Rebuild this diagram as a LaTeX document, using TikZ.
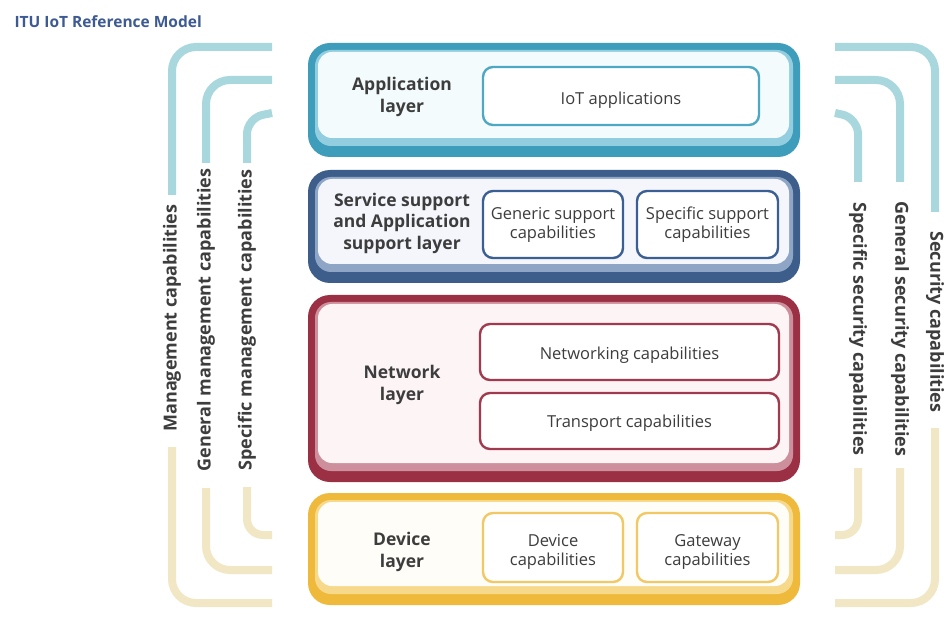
\documentclass[tikz,border=0pt]{standalone}
\usepackage{fontspec}
\setmainfont{Open Sans}
\definecolor{txt}{HTML}{3D3D3D}
\definecolor{ttl}{HTML}{3D5A92}
\definecolor{appdark}{HTML}{3E9DBB}
\definecolor{appband}{HTML}{93CDE0}
\definecolor{appfill}{HTML}{F3FBFD}
\definecolor{appin}{HTML}{4EA8C4}
\definecolor{svcdark}{HTML}{3D5D8A}
\definecolor{svcband}{HTML}{8EA5C6}
\definecolor{svcfill}{HTML}{F4F6FC}
\definecolor{svcin}{HTML}{3B5F92}
\definecolor{netdark}{HTML}{9B2F44}
\definecolor{netband}{HTML}{CC8F9B}
\definecolor{netfill}{HTML}{FDF4F6}
\definecolor{netin}{HTML}{A23A4F}
\definecolor{devdark}{HTML}{EFB93C}
\definecolor{devband}{HTML}{F6D98B}
\definecolor{devfill}{HTML}{FFFDF7}
\definecolor{devin}{HTML}{F1C864}
\definecolor{brteal}{HTML}{A8D7DD}
\definecolor{brcream}{HTML}{F2E7C4}
\tikzset{
  capbox/.style={draw, line width=2.4pt, rounded corners=10pt, fill=white, inner sep=0pt},
  captext/.style={text=txt, align=center, font=\fontsize{16.5}{19}\selectfont, inner sep=0pt},
  layerlabel/.style={text=txt, align=center, font=\fontsize{17.5}{21.5}\selectfont\bfseries},
  brtop/.style={draw=brteal, line width=8pt, rounded corners=24pt},
  brbot/.style={draw=brcream, line width=8pt, rounded corners=24pt},
  brlabel/.style={text=txt, font=\fontsize{18}{20}\selectfont\bfseries},
}
\newcommand{\layershape}[7]{%
  \fill[#5, rounded corners=22pt] (308,#1) rectangle (800,#2);
  \fill[#6, rounded corners=16pt] (315,#3) rectangle (793,#4);
  \fill[#7, rounded corners=14pt] (318,{#3+2}) rectangle (789,{#4-8});
}
\begin{document}
\begin{tikzpicture}[x=1pt,y=-1pt]
\useasboundingbox (0,0) rectangle (952,617);
\fill[white] (0,0) rectangle (952,617);
\node[anchor=west, text=ttl, font=\fontsize{15.5}{18}\selectfont\bfseries] (title) at (11,22) {ITU IoT Reference Model};

% layers
\layershape{43}{157}{50}{146}{appdark}{appband}{appfill}
\layershape{170}{283}{177}{272}{svcdark}{svcband}{svcfill}
\layershape{295}{482}{302}{471}{netdark}{netband}{netfill}
\layershape{493}{605}{500}{594}{devdark}{devband}{devfill}

\node[layerlabel] (applbl) at (402,97) {Application\\layer};
\node[capbox, draw=appin, minimum width=276pt, minimum height=58pt] (iotapp) at (621,96) {};
\node[captext] (iotapptxt) at (621,100) {IoT applications};

\node[layerlabel] (svclbl) at (402,223) {Service support\\and Application\\support layer};
\node[capbox, draw=svcin, minimum width=140pt, minimum height=67pt] (generic) at (553,224.5) {};
\node[captext] (generictxt) at (553,224.5) {Generic support\\capabilities};
\node[capbox, draw=svcin, minimum width=141pt, minimum height=67pt] (specific) at (707.5,224.5) {};
\node[captext] (specifictxt) at (707.5,224.5) {Specific support\\capabilities};

\node[layerlabel] (netlbl) at (402,385) {Network\\layer};
\node[capbox, draw=netin, minimum width=299pt, minimum height=56pt] (networking) at (629.5,352) {};
\node[captext] (networkingtxt) at (629.5,355) {Networking capabilities};
\node[capbox, draw=netin, minimum width=299pt, minimum height=56pt] (transport) at (629.5,421) {};
\node[captext] (transporttxt) at (629.5,423) {Transport capabilities};

\node[layerlabel] (devlbl) at (402,552) {Device\\layer};
\node[capbox, draw=devin, minimum width=140pt, minimum height=69pt] (devcap) at (553,547.5) {};
\node[captext] (devcaptxt) at (553,552) {Device\\capabilities};
\node[capbox, draw=devin, minimum width=141pt, minimum height=69pt] (gwcap) at (707.5,547.5) {};
\node[captext] (gwcaptxt) at (707.5,552) {Gateway\\capabilities};

% left brackets
\draw[brtop] (272,47) -- (172,47) -- (172,195);
\draw[brbot] (172,447) -- (172,603) -- (272,603);
\draw[brtop] (272,80) -- (206,80) -- (206,163);
\draw[brbot] (206,488) -- (206,570) -- (272,570);
\draw[brtop, rounded corners=16pt] (272,113) -- (247,118) -- (247,163);
\draw[brbot, rounded corners=16pt] (247,487) -- (247,535) -- (272,535);
\node[brlabel, rotate=90] (mgmt) at (172,318) {Management capabilities};
\node[brlabel, rotate=90] (gmgmt) at (206,320) {General management capabilities};
\node[brlabel, rotate=90] (smgmt) at (247,320) {Specific management capabilities};

% right brackets
\draw[brtop] (835,47) -- (935,47) -- (935,212);
\draw[brbot] (935,428) -- (935,603) -- (835,603);
\draw[brtop] (835,80) -- (900,80) -- (900,182);
\draw[brbot] (900,468) -- (900,570) -- (835,570);
\draw[brtop, rounded corners=16pt] (835,113) -- (858,118) -- (858,182);
\draw[brbot, rounded corners=16pt] (858,468) -- (858,535) -- (835,535);
\node[brlabel, rotate=-90] (sec) at (935,322) {Security capabilities};
\node[brlabel, rotate=-90] (gsec) at (900,329) {General security capabilities};
\node[brlabel, rotate=-90] (ssec) at (858,329) {Specific security capabilities};
\end{tikzpicture}
\end{document}
